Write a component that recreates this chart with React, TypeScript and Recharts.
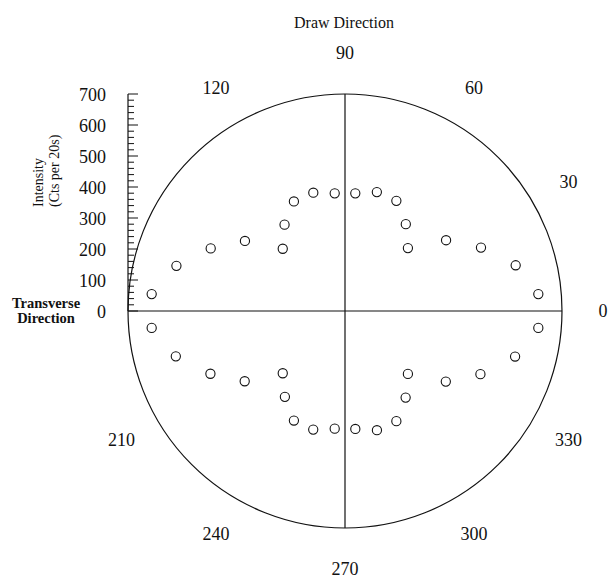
import React from "react";
import {
  RadarChart,
  Radar,
  PolarGrid,
  PolarAngleAxis,
  PolarRadiusAxis,
  ComposedChart,
  YAxis,
  Line,
  Customized,
} from "recharts";

// Measured directions (degrees) and intensities (counts per 20 s)
const MEASURE_ANGLES = [
  5, 15, 25, 35, 45, 55, 65, 75, 85, 95, 105, 115, 125, 135, 145, 155, 165, 175,
  185, 195, 205, 215, 225, 235, 245, 255, 265, 275, 285, 295, 305, 315, 325, 335, 345, 355,
];
const INTENSITY = [
  626, 570, 484, 398, 287, 342, 392, 397, 381, 381, 395, 390, 340, 284, 394, 478, 563, 626,
  626, 565, 479, 395, 284, 338, 390, 396, 381, 382, 398, 392, 341, 287, 397, 482, 568, 626,
];

// Angle-axis categories (every 5 degrees) and the printed direction labels
const ANGLE_CATEGORIES = Array.from({ length: 72 }, (_, i) => i * 5);
const ANGLE_LABELS = [0, 30, 60, 90, 120, 210, 240, 270, 300, 330];
const GRID_ANGLES = [0, 90, 180, 270];

// Intensity scale
const INTENSITY_DOMAIN = [0, 700];
const INTENSITY_TICKS = [
  0, 20, 40, 60, 80, 100, 120, 140, 160, 180, 200, 220, 240, 260, 280, 300, 320, 340,
  360, 380, 400, 420, 440, 460, 480, 500, 520, 540, 560, 580, 600, 620, 640, 660, 680, 700,
];

const pointData = MEASURE_ANGLES.map((a, i) => ({ angle: a, intensity: INTENSITY[i] }));
const labelData = ANGLE_CATEGORIES.map((a) => ({ angle: a }));
const axisData = [{ base: INTENSITY_DOMAIN[0] }, { base: INTENSITY_DOMAIN[0] }];

const FONT = '"Liberation Serif", "Times New Roman", serif';
const INK = "#111";
const W = 612;
const H = 578;
const CX = 345;
const CY = 311;
const R = 217;
const ZERO = { top: 0, right: 0, bottom: 0, left: 0 };

const renderDot = (props: any) => {
  const { cx, cy } = props;
  if (!Number.isFinite(cx) || !Number.isFinite(cy)) {
    return <g key={props.key ?? `e${props.index}`} />;
  }
  return (
    <circle
      key={props.key ?? `d${props.index}`}
      cx={cx}
      cy={cy}
      r={4.6}
      fill="#fff"
      stroke={INK}
      strokeWidth={1.1}
    />
  );
};

const renderAngleTick = (props: any) => {
  const { x, y, payload } = props;
  if (!ANGLE_LABELS.includes(payload.value)) return <g />;
  return (
    <text
      x={x}
      y={y}
      dy="0.33em"
      textAnchor="middle"
      fontFamily={FONT}
      fontSize={18}
      fill={INK}
    >
      {payload.value}
    </text>
  );
};

const renderIntensityTick = (props: any) => {
  const { x, y, payload } = props;
  const major = payload.value % 100 === 0;
  return (
    <g>
      <line x1={x} y1={y} x2={x + (major ? 10 : 6)} y2={y} stroke={INK} strokeWidth={1} />
      {major && (
        <text
          x={x - 22}
          y={y}
          dy="0.38em"
          textAnchor="end"
          fontFamily={FONT}
          fontSize={18}
          fill={INK}
        >
          {payload.value}
        </text>
      )}
    </g>
  );
};

const Annotations = () => (
  <g fontFamily={FONT} fill={INK}>
    <text x={344} y={22} dy="0.35em" textAnchor="middle" fontSize={16}>
      Draw Direction
    </text>
    <text
      x={38}
      y={207}
      dy="0.35em"
      textAnchor="start"
      fontSize={14}
      transform="rotate(-90 38 207)"
    >
      Intensity
    </text>
    <text
      x={54}
      y={207}
      dy="0.35em"
      textAnchor="start"
      fontSize={14}
      transform="rotate(-90 54 207)"
    >
      (Cts per 20s)
    </text>
    <text x={46} y={303} dy="0.35em" textAnchor="middle" fontSize={14.5} fontWeight="bold">
      Transverse
    </text>
    <text x={46} y={318} dy="0.35em" textAnchor="middle" fontSize={14.5} fontWeight="bold">
      Direction
    </text>
  </g>
);

const layer: React.CSSProperties = { position: "absolute", left: 0, top: 0 };

export default function App() {
  return (
    <div
      style={{
        position: "absolute",
        left: 0,
        top: 0,
        width: W,
        height: H,
        background: "#fff",
      }}
    >
      {/* grid circle, axes cross and direction labels */}
      <div style={layer}>
        <RadarChart
          width={W}
          height={H}
          data={labelData}
          cx={CX}
          cy={CY}
          outerRadius={R}
          startAngle={5}
          endAngle={365}
          margin={ZERO}
        >
          <PolarGrid
            gridType="circle"
            polarAngles={GRID_ANGLES}
            polarRadius={[R]}
            stroke={INK}
            strokeWidth={1.2}
          />
          <PolarAngleAxis
            dataKey="angle"
            axisLine={false}
            tickLine={false}
            tickSize={41}
            tick={renderAngleTick}
          />
        </RadarChart>
      </div>
      {/* measured intensities */}
      <div style={layer}>
        <RadarChart
          width={W}
          height={H}
          data={pointData}
          cx={CX}
          cy={CY}
          outerRadius={R}
          startAngle={-5}
          endAngle={355}
          margin={ZERO}
        >
          <PolarAngleAxis dataKey="angle" axisLine={false} tickLine={false} tick={false} />
          <PolarRadiusAxis
            type="number"
            domain={INTENSITY_DOMAIN}
            axisLine={false}
            tick={false}
          />
          <Radar
            dataKey="intensity"
            stroke="none"
            fill="none"
            dot={renderDot}
            isAnimationActive={false}
          />
        </RadarChart>
      </div>
      {/* intensity scale and titles */}
      <div style={layer}>
        <ComposedChart
          width={W}
          height={H}
          data={axisData}
          margin={{ top: 94, right: 20, bottom: H - CY, left: 68 }}
        >
          <YAxis
            type="number"
            domain={INTENSITY_DOMAIN}
            ticks={INTENSITY_TICKS}
            interval={0}
            width={60}
            tickSize={0}
            tickMargin={0}
            tickLine={false}
            axisLine={{ stroke: INK, strokeWidth: 1.2 }}
            tick={renderIntensityTick}
          />
          <Line
            dataKey="base"
            stroke="none"
            dot={false}
            activeDot={false}
            isAnimationActive={false}
          />
          <Customized component={Annotations} />
        </ComposedChart>
      </div>
    </div>
  );
}
